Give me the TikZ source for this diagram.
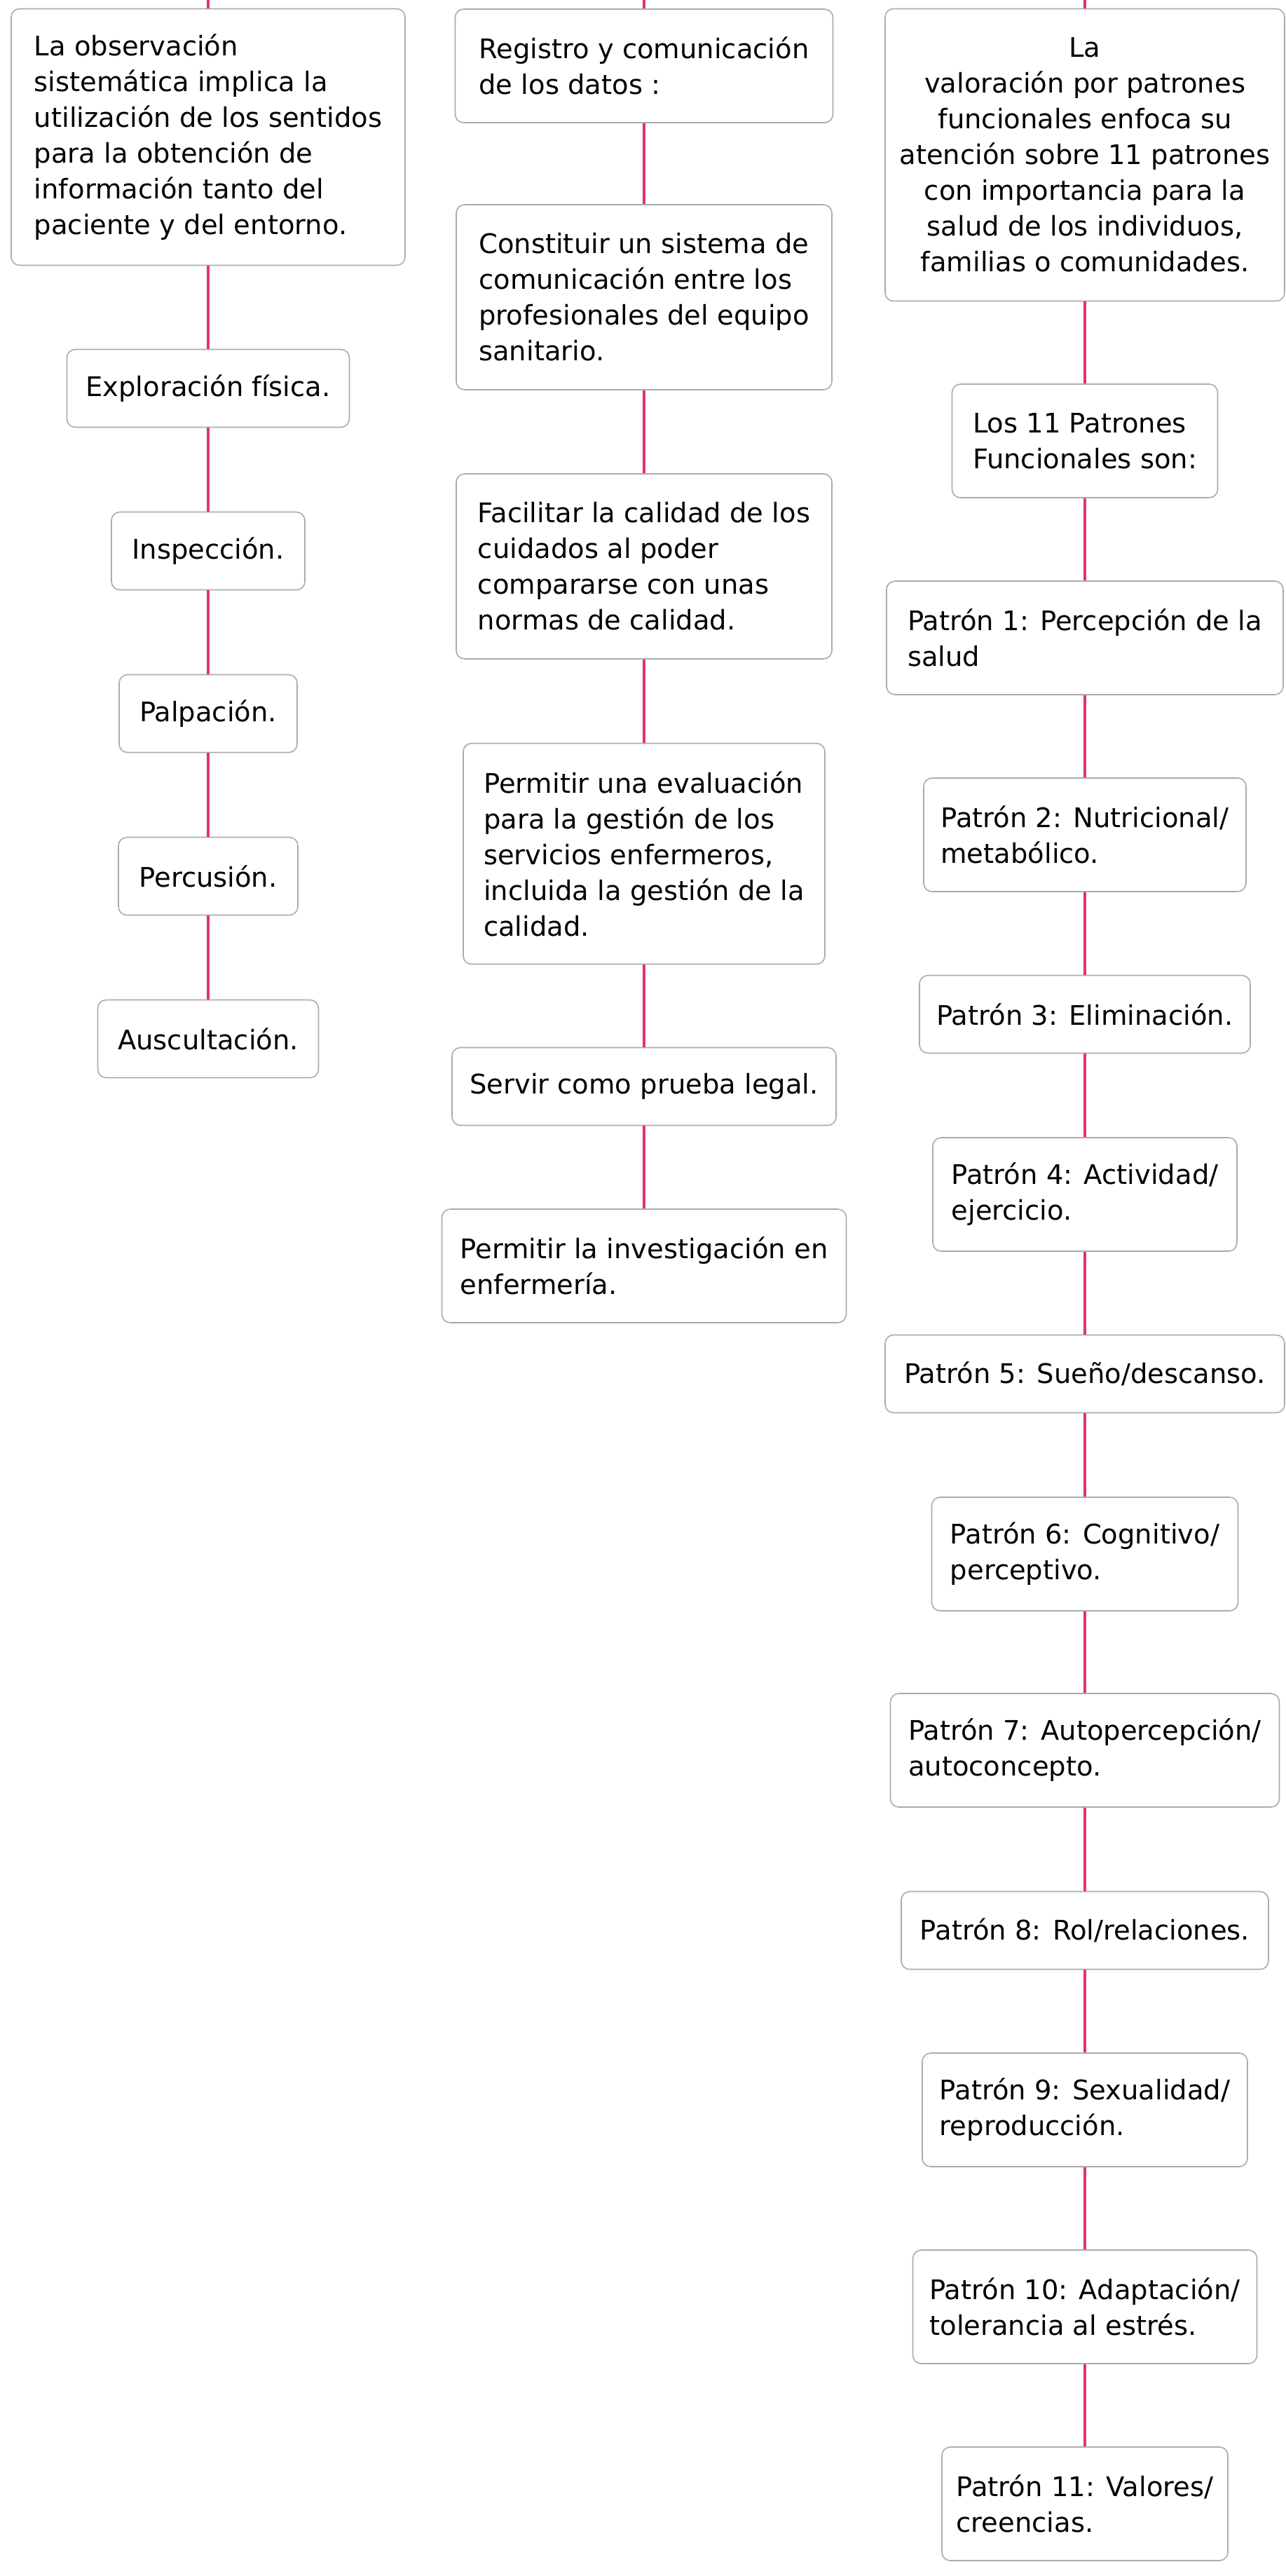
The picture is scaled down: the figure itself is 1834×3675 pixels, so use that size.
\documentclass[tikz,border=0pt]{standalone}
\usepackage{fontspec}
\setmainfont{DejaVu Sans}
\definecolor{vpPink}{HTML}{E3336D}
\definecolor{vpGray}{HTML}{ABABAB}
\tikzset{
  vp box/.style={draw=vpGray, fill=white, line width=1.6pt, rounded corners=12pt, inner sep=0pt, align=left, text=black, font=\fontsize{38.5}{51}\selectfont},
  vp rows/.style={minimum height={60+51*#1}},
  vp link/.style={draw=vpPink, line width=4.6pt},
}

\begin{document}
\begin{tikzpicture}[x=1pt,y=-1pt]
  \fill[white] (0,0) rectangle (1834,3675);
  \useasboundingbox (0,0) rectangle (1834,3675);

  % observacion
  \coordinate (ltop) at (297,0);
  \node[vp box, vp rows=6, minimum width=562] (l1) at (297,195.5) {La observación\\ sistemática implica la\\ utilización de los sentidos\\ para la obtención de\\ información tanto del\\ paciente y del entorno.};
  \foreach \n/\y/\w/\t in {2/554/403/{Exploración física.},3/786/276/{Inspección.},4/1018/254/{Palpación.},5/1250/256/{Percusión.},6/1482/315/{Auscultación.}} {
    \node[vp box, vp rows=1, minimum width=\w] (l\n) at (297,\y) {\t};
  }

  % registro
  \coordinate (mtop) at (919,0);
  \foreach \n/\y/\w/\k/\t in {1/94/539/2/{Registro y comunicación\\ de los datos :},2/424/536/4/{Constituir un sistema de\\ comunicación entre los\\ profesionales del equipo\\ sanitario.},3/808/536/4/{Facilitar la calidad de los\\ cuidados al poder\\ compararse con unas\\ normas de calidad.},4/1218/516/5/{Permitir una evaluación\\ para la gestión de los\\ servicios enfermeros,\\ incluida la gestión de la\\ calidad.},5/1550/548/1/{Servir como prueba legal.},6/1806/577/2/{Permitir la investigación en\\ enfermería.}} {
    \node[vp box, vp rows=\k, minimum width=\w] (m\n) at (919,\y) {\t};
  }

  % patrones funcionales
  \coordinate (rtop) at (1548,0);
  \node[vp box, vp rows=7, minimum width=570, align=center] (r1) at (1548,221) {La\\ valoración por patrones\\ funcionales enfoca su\\ atención sobre 11 patrones\\ con importancia para la\\ salud de los individuos,\\ familias o comunidades.};
  \foreach \n/\y/\w/\k/\t in {2/629/379/2/{Los 11 Patrones\\ Funcionales son:},3/910/566/2/{Patrón 1: Percepción de la\\ salud},4/1191/460/2/{Patrón 2: Nutricional/\\ metabólico.},5/1447/472/1/{Patrón 3: Eliminación.},6/1704/434/2/{Patrón 4: Actividad/\\ ejercicio.},7/1960/570/1/{Patrón 5: Sueño/descanso.},8/2217/437/2/{Patrón 6: Cognitivo/\\ perceptivo.},9/2497/555/2/{Patrón 7: Autopercepción/\\ autoconcepto.},10/2754/524/1/{Patrón 8: Rol/relaciones.},11/3010/464/2/{Patrón 9: Sexualidad/\\ reproducción.},12/3291/491/2/{Patrón 10: Adaptación/\\ tolerancia al estrés.},13/3572/408/2/{Patrón 11: Valores/\\ creencias.}} {
    \node[vp box, vp rows=\k, minimum width=\w] (r\n) at (1548,\y) {\t};
  }

  % connectors
  \foreach \a/\b in {ltop/l1,l1/l2,l2/l3,l3/l4,l4/l5,l5/l6,mtop/m1,m1/m2,m2/m3,m3/m4,m4/m5,m5/m6,rtop/r1,r1/r2,r2/r3,r3/r4,r4/r5,r5/r6,r6/r7,r7/r8,r8/r9,r9/r10,r10/r11,r11/r12,r12/r13} {
    \draw[vp link] (\a) -- (\b);
  }
\end{tikzpicture}
\end{document}
